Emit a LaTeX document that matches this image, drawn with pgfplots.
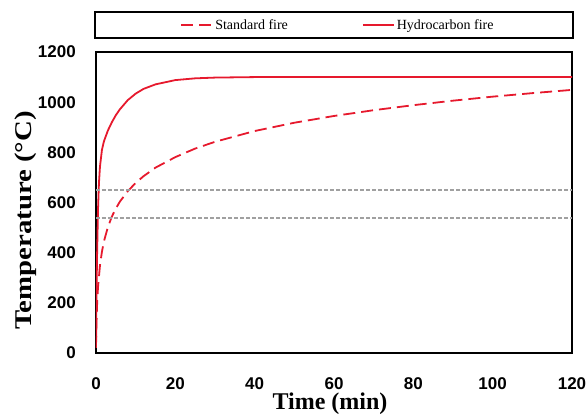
\documentclass[border=0pt]{standalone}
\usepackage{fontspec}
\setmainfont{Liberation Serif}
\setsansfont{Liberation Sans}
\usepackage{pgfplots}
\pgfplotsset{compat=1.18}
\definecolor{firered}{RGB}{230,25,45}
\definecolor{refgray}{RGB}{160,160,160}

\begin{document}
\begin{tikzpicture}
\useasboundingbox (-96pt,-63pt) rectangle (492pt,353pt);
\begin{axis}[
  width=476pt, height=301pt, scale only axis,
  xmin=0, xmax=120, ymin=0, ymax=1200,
  xtick={0,20,...,120}, ytick={0,200,...,1200},
  major tick length=0pt,
  axis line style={line width=2.4pt},
  /pgf/number format/assume math mode=true,
  /pgf/number format/set thousands separator={},
  tick label style={font=\fontsize{17}{17}\selectfont\sffamily\bfseries, inner sep=0pt},
  xticklabel style={anchor=north, yshift=-24pt},
  yticklabel style={anchor=east, xshift=-20pt},
  xlabel={Time (min)}, ylabel={\scalebox{1.2}[1]{Temperature (°C)}},
  label style={font=\fontsize{24}{24}\selectfont\bfseries, inner sep=0pt},
  xlabel style={at={(axis description cs:0.5,0)}, anchor=north, yshift=-40pt, xshift=-4pt},
  ylabel style={at={(axis description cs:-0.147,0.44)}, anchor=center},
  legend columns=2,
  legend style={at={(axis description cs:0.5,1)}, anchor=center, yshift=27pt, xshift=4pt,
    draw=none, fill=none, font=\fontsize{14}{14}\selectfont,
    /tikz/every even column/.append style={column sep=72pt}},
  legend image code/.code={\draw[#1] (0pt,0pt) -- (31pt,0pt);},
]
% ISO 834 standard fire
\addplot[firered, line width=1.8pt, dash pattern=on 12pt off 6pt] coordinates {
  (0,20)(0.1,108)(0.25,185)(0.5,261)(1,349)(1.5,404)(2,445)(3,502)(4,544)(5,576)
  (6,603)(8,645)(10,678)(12,705)(15,739)(20,781)(25,815)(30,842)(40,885)(50,918)
  (60,945)(70,968)(80,988)(90,1006)(100,1022)(110,1036)(120,1049)};
\addlegendentry{Standard fire}
% hydrocarbon fire
\addplot[firered, line width=1.8pt] coordinates {
  (0,20)(0.1,187)(0.25,373)(0.5,568)(0.75,679)(1,743)(1.5,810)(2,844)(3,887)(4,920)
  (5,948)(6,971)(8,1008)(10,1034)(12,1053)(15,1071)(20,1088)(25,1095)(30,1098)
  (40,1100)(60,1100)(90,1100)(120,1100)};
\addlegendentry{Hydrocarbon fire}
% reference levels
\addplot[refgray, line width=1.2pt, dash pattern=on 4pt off 2pt, forget plot] coordinates {(0,650)(120,650)};
\addplot[refgray, line width=1.2pt, dash pattern=on 4pt off 2pt, forget plot] coordinates {(0,538)(120,538)};
\end{axis}
\draw[line width=2.4pt] (-1pt,315pt) rectangle (477pt,341pt);
\end{tikzpicture}
\end{document}
